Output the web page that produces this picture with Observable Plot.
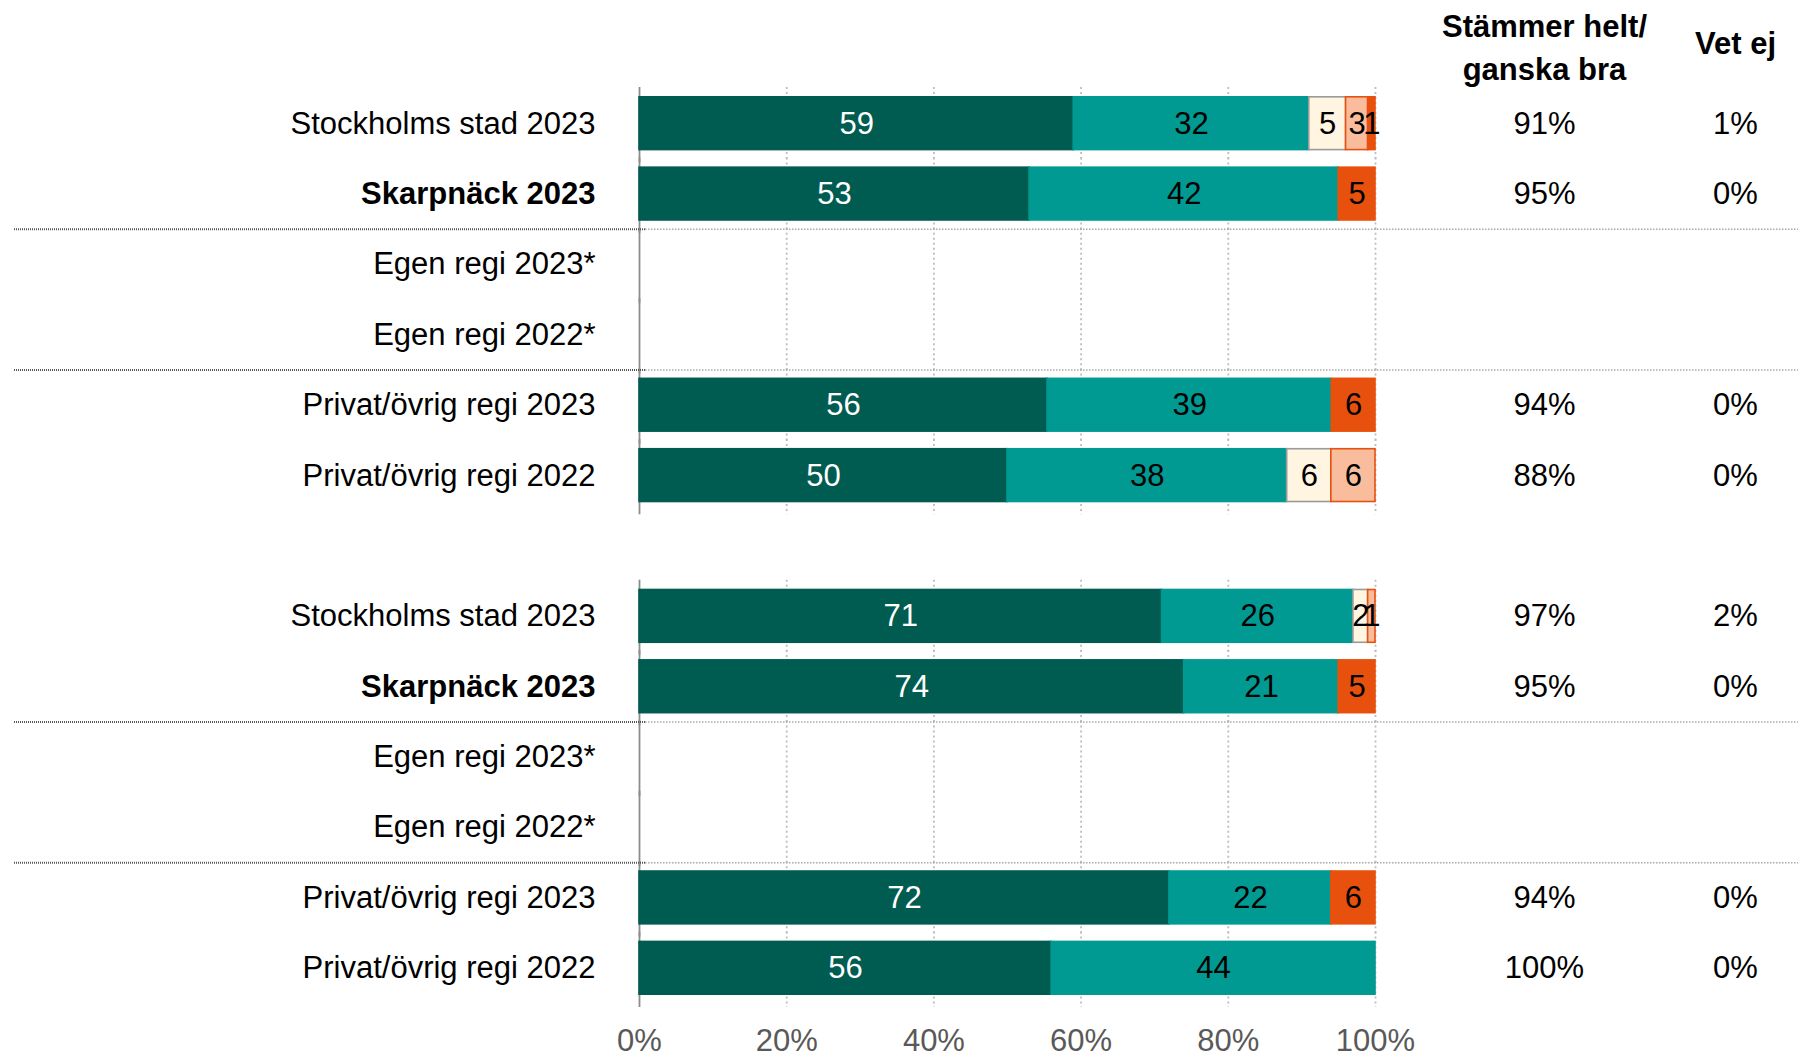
<!DOCTYPE html>
<html>
<head>
<meta charset="utf-8">
<script src="https://cdn.jsdelivr.net/npm/d3@7"></script>
<script src="https://cdn.jsdelivr.net/npm/@observablehq/plot@0.6"></script>
<style>
  html, body { margin: 0; padding: 0; background: #fff; }
  #chart { width: 1804px; height: 1054px; }
</style>
</head>
<body>
<div id="chart"></div>
<script>
// ---- Data ----
const rowLabels = [
  "Stockholms stad 2023", "Skarpnäck 2023", "Egen regi 2023*", "Egen regi 2022*",
  "Privat/övrig regi 2023", "Privat/övrig regi 2022"
];
const boldRows = ["Skarpnäck 2023"];
const groups = ["A", "B"];
const seriesNames = ["Stämmer helt", "Stämmer ganska bra", "Varken eller", "Stämmer ganska dåligt", "Stämmer helt dåligt"];
const seriesFill = ["#005B50", "#009A92", "#FFF5E1", "#F9BD9D", "#E8500E"];
const seriesStroke = ["#005B50", "#009A92", "#9A9A9A", "#E8500E", "#E8500E"];
const seriesText = ["#ffffff", "#000000", "#000000", "#000000", "#000000"];

// values per row, series order as above (null row = no data)
const valuesA = [
  [59, 32, 5, 3, 1],
  [53, 42, 0, 0, 5],
  null,
  null,
  [56, 39, 0, 0, 6],
  [50, 38, 6, 6, 0]
];
const valuesB = [
  [71, 26, 2, 1, 0],
  [74, 21, 0, 0, 5],
  null,
  null,
  [72, 22, 0, 0, 6],
  [56, 44, 0, 0, 0]
];
const agreeA = ["91%", "95%", "", "", "94%", "88%"];
const vetejA = ["1%", "0%", "", "", "0%", "0%"];
const agreeB = ["97%", "95%", "", "", "94%", "100%"];
const vetejB = ["2%", "0%", "", "", "0%", "0%"];
const xTicks = [0, 0.2, 0.4, 0.6, 0.8, 1];
const headerAgree = "Stämmer helt/\nganska bra";
const headerVetej = "Vet ej";

// ---- Build tables ----
const keys = [];
const rows = [];
const allValues = {A: valuesA, B: valuesB};
const agree = {A: agreeA, B: agreeB};
const vetej = {A: vetejA, B: vetejB};
groups.forEach((g, gi) => {
  if (gi > 0) keys.push("gap");
  rowLabels.forEach((lab, i) => {
    const key = g + "|" + lab;
    keys.push(key);
    rows.push({key, label: lab, bold: boldRows.includes(lab), idx: i, agree: agree[g][i], vetej: vetej[g][i], values: allValues[g][i]});
  });
});
const segs = [];
rows.forEach(r => {
  if (!r.values) return;
  r.values.forEach((v, s) => {
    if (v > 0) segs.push({key: r.key, series: seriesNames[s], value: v, fill: seriesFill[s], stroke: seriesStroke[s], tcol: seriesText[s]});
  });
});
const sepKeys = [];
groups.forEach(g => { sepKeys.push(g + "|" + rowLabels[2]); sepKeys.push(g + "|" + rowLabels[4]); });

// ---- Layout ----
const W = 1804, H = 1054;
const mL = 639, mR = 429, mT = 88, mB = 51;
const step = (H - mT - mB) / keys.length;
const gapHalf = step * 0.125;
const FONT = "Liberation Sans, Arial, Helvetica, sans-serif";
const FS = 31;

const seg = (opts) => Plot.stackX({offset: "normalize", x: "value", y: "key", order: null, ...opts});
const gridData = rows.flatMap(r => xTicks.slice(1).map(t => ({key: r.key, t, last: r.idx === rowLabels.length - 1})));

const chart = Plot.plot({
  width: W,
  height: H,
  marginLeft: mL,
  marginRight: mR,
  marginTop: mT,
  marginBottom: mB,
  style: {fontFamily: FONT, fontSize: FS + "px", background: "#fff", color: "#000", overflow: "visible"},
  x: {domain: [0, 1], axis: null},
  y: {domain: keys, axis: null, paddingInner: 0.25, paddingOuter: 0.125, round: false},
  marks: [
    // vertical dotted gridlines, per row band
    Plot.tickX(gridData.filter(d => !d.last), {
      x: "t", y: "key", stroke: "#BDBDBD", strokeWidth: 1.8, strokeDasharray: "2,3",
      insetTop: -gapHalf - 1, insetBottom: -gapHalf - 1
    }),
    Plot.tickX(gridData.filter(d => d.last), {
      x: "t", y: "key", stroke: "#BDBDBD", strokeWidth: 1.8, strokeDasharray: "2,3",
      insetTop: -gapHalf - 1, insetBottom: -gapHalf - 4
    }),
    // y axis line
    Plot.tickX(rows, {x: () => 0, y: "key", stroke: "#8C8C8C", strokeWidth: 1.8,
      insetTop: -gapHalf - 1, insetBottom: -gapHalf - 4}),
    // separators: dark left part
    Plot.ruleY(sepKeys, {y: d => d, dy: -step / 2, stroke: "#555", strokeWidth: 2, strokeDasharray: "1,1", insetLeft: -(mL - 14), insetRight: 736 - 6}),
    // separators: light right part
    Plot.ruleY(sepKeys, {y: d => d, dy: -step / 2, stroke: "#AAAAAA", strokeWidth: 1.5, strokeDasharray: "1.5,1.5", insetLeft: 6, insetRight: -(mR - 6)}),
    // bars
    Plot.barX(segs, seg({fill: "fill", stroke: "stroke", strokeWidth: 1.6})),
    // bar value labels
    Plot.text(segs, seg({text: d => String(d.value), fill: "tcol", fontSize: FS, fontFamily: FONT})),
    // row labels
    Plot.text(rows.filter(r => !r.bold), {y: "key", text: "label", frameAnchor: "left", dx: -44, textAnchor: "end", fontSize: FS, fill: "#000"}),
    Plot.text(rows.filter(r => r.bold), {y: "key", text: "label", frameAnchor: "left", dx: -44, textAnchor: "end", fontSize: FS, fontWeight: "bold", fill: "#000"}),
    // right columns
    Plot.text(rows, {y: "key", text: "agree", frameAnchor: "right", dx: 169, textAnchor: "middle", fontSize: FS, fill: "#000"}),
    Plot.text(rows, {y: "key", text: "vetej", frameAnchor: "right", dx: 360, textAnchor: "middle", fontSize: FS, fill: "#000"}),
    // headers
    Plot.text([headerAgree], {text: d => d, frameAnchor: "top-right", lineAnchor: "middle", dx: 169, dy: -43.5, lineHeight: 1.39, textAnchor: "middle", fontSize: FS, fontWeight: "bold", fill: "#000"}),
    Plot.text([headerVetej], {text: d => d, frameAnchor: "top-right", lineAnchor: "middle", dx: 360, dy: -44, textAnchor: "middle", fontSize: FS, fontWeight: "bold", fill: "#000"}),
    // x axis labels
    Plot.axisX(xTicks, {tickFormat: d => Math.round(d * 100) + "%", tickSize: 0, tickPadding: 25, fontSize: FS, fill: "#595959"})
  ]
});
document.getElementById("chart").appendChild(chart);
</script>
</body>
</html>
